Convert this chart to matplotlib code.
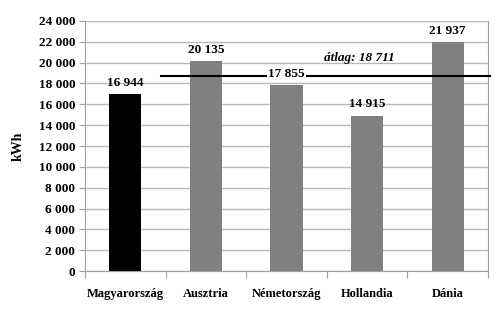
import matplotlib.pyplot as plt

# adatok
orszagok = ['Magyarország', 'Ausztria', 'Németország', 'Hollandia', 'Dánia']
ertekek = [16944, 20135, 17855, 14915, 21937]
atlag = 18711
szinek = ['#000000', '#808080', '#808080', '#808080', '#808080']

def fmt(v):
    return '{:,}'.format(v).replace(',', ' ')

plt.rcParams['font.family'] = ['Liberation Serif', 'DejaVu Serif']
plt.rcParams['font.weight'] = 'bold'

fig = plt.figure(figsize=(5, 3.12), dpi=100)
ax = fig.add_axes([0.17, 0.131, 0.806, 0.802])

x = range(len(orszagok))
ax.bar(x, ertekek, width=0.4, color=szinek, zorder=3)

ax.set_xlim(-0.5, len(orszagok) - 0.5)
ax.set_ylim(0, 24000)
ax.set_yticks(range(0, 24001, 2000))
ax.set_yticklabels([fmt(v) for v in range(0, 24001, 2000)], fontsize=9.5, fontweight='bold')
ax.grid(axis='y', color='#b8b8b8', linewidth=1, zorder=0)

# kategóriahatárok a tengelyen
ax.set_xticks([i - 0.5 for i in range(len(orszagok) + 1)])
ax.set_xticklabels([])
ax.set_xticks(list(x), minor=True)
ax.set_xticklabels(orszagok, minor=True, fontsize=9, fontweight='bold')
ax.tick_params(axis='x', which='minor', length=0, pad=12)
ax.tick_params(axis='x', which='major', length=5, color='#a0a0a0')
ax.tick_params(axis='y', length=4, color='#a0a0a0', pad=3)

for s in ['left', 'bottom', 'right', 'top']:
    ax.spines[s].set_color('#a0a0a0')
ax.spines['top'].set_visible(False)

ax.set_ylabel('kWh', fontsize=10, fontweight='bold', labelpad=10)

# átlag vonal
ax.plot([0.44, 4.53], [atlag, atlag], color='black', linewidth=1.5, zorder=4, clip_on=False)
ax.text(2.9, atlag + 1750, 'átlag: ' + fmt(atlag), ha='center', va='center',
        fontsize=9.5, fontweight='bold', style='italic', zorder=5)

# értékcímkék
for i, v in enumerate(ertekek):
    t = ax.text(i, v + 500, fmt(v), ha='center', va='bottom', fontsize=9.5,
                fontweight='bold', zorder=5)
    if i == 2:
        t.set_bbox(dict(facecolor='white', edgecolor='none', pad=1))

fig.savefig('out.png', dpi=100)
